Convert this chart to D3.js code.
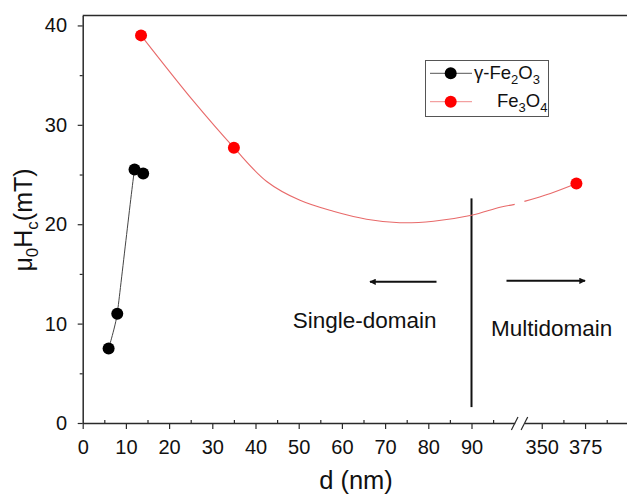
<!DOCTYPE html>
<html>
<head>
<meta charset="utf-8">
<script src="https://cdn.jsdelivr.net/npm/d3@7"></script>
<style>
  html, body { margin: 0; padding: 0; background: #fff; }
  svg { display: block; font-family: "Liberation Sans", Arial, sans-serif; }
</style>
</head>
<body>
<svg id="chart" width="627" height="497"></svg>
<script>
// ---------------- data ----------------
const gammaD  = [6, 8, 12, 14];
const gammaHc = [7.5, 11.0, 25.5, 25.1];

const fe3o4D  = [13.5, 35, 370];
const fe3o4Hc = [39.0, 27.7, 24.1];

// smooth guide curve for Fe3O4 (two pieces, axis break between)
const trendLeftD   = [13.5, 25.6, 35, 42.6, 50.3, 58, 65.7, 73.4, 81.2, 90, 96.6, 100];
const trendLeftHc  = [39.0, 32.4, 27.7, 24.3, 22.4, 21.3, 20.5, 20.15, 20.3, 20.9, 21.7, 22.0];
const trendRightD  = [340, 355, 370];
const trendRightHc = [22.3, 23.1, 24.1];

const xTicksLeft   = [0, 10, 20, 30, 40, 50, 60, 70, 80, 90];
const xMinorLeft   = [5, 15, 25, 35, 45, 55, 65, 75, 85, 95];
const xTicksRight  = [350, 375, 400];
const xMinorRight  = [362.5, 387.5];
const yTicks       = [0, 10, 20, 30, 40];
const yMinor       = [5, 15, 25, 35];

const boundaryD = 90, boundaryLow = 1.6, boundaryHigh = 22.6;
const leftArrow  = {from: 81.9, to: 66.5, hc: 14.2};
const rightArrow = {from: 98.1, to: 375, hc: 14.3};
const labelSingle = {d: 48.6, hc: 9.55, text: "Single-domain"};
const labelMulti  = {d: 94.5, hc: 8.75, text: "Multidomain"};

// ---------------- scales ----------------
const svg = d3.select("#chart");
const x1 = d3.scaleLinear().domain([0, 100]).range([82.7, 514.7]);
const x2 = d3.scaleLinear().domain([340, 400]).range([524.4, 628.4]);
const xp = d => d <= 200 ? x1(d) : x2(d);
const y  = d3.scaleLinear().domain([0, 41]).range([423, 15.5]);

const axisColor = "#2a2a2a";

// ---------------- frame / axes ----------------
svg.append("line")
  .attr("x1", x1(0)).attr("x2", 627).attr("y1", y(41)).attr("y2", y(41))
  .attr("stroke", axisColor).attr("stroke-width", 1.5);

const gL = svg.append("g").attr("transform", `translate(${x1(0)},0)`);
gL.call(d3.axisLeft(y).tickValues(yTicks).tickSize(5).tickPadding(10.7).tickSizeOuter(0))
  .call(g => g.select(".domain").attr("stroke", axisColor).attr("stroke-width", 1.5))
  .call(g => g.selectAll(".tick line").attr("stroke", axisColor).attr("stroke-width", 1.2))
  .call(g => g.selectAll("text").attr("font-size", 20).attr("fill", "#111")
      .attr("font-family", "Liberation Sans, Arial, sans-serif"));
svg.append("g").attr("transform", `translate(${x1(0)},0)`)
  .call(d3.axisLeft(y).tickValues(yMinor).tickSize(3).tickFormat(""))
  .call(g => g.select(".domain").remove())
  .call(g => g.selectAll(".tick line").attr("stroke", axisColor).attr("stroke-width", 1.2));

function bottomSeg(scale, major, minor, fmt) {
  const g = svg.append("g").attr("transform", `translate(0,${y(0)})`);
  g.call(d3.axisBottom(scale).tickValues(major).tickSize(6).tickSizeOuter(0).tickFormat(fmt))
    .call(g => g.select(".domain").attr("stroke", axisColor).attr("stroke-width", 1.5))
    .call(g => g.selectAll(".tick line").attr("stroke", axisColor).attr("stroke-width", 1.2))
    .call(g => g.selectAll("text").attr("font-size", 20).attr("fill", "#111")
        .attr("y", 31).attr("dy", null)
        .attr("font-family", "Liberation Sans, Arial, sans-serif"));
  const gm = svg.append("g").attr("transform", `translate(0,${y(0)})`);
  gm.call(d3.axisBottom(scale).tickValues(minor).tickSize(-3).tickFormat(""))
    .call(g => g.select(".domain").remove())
    .call(g => g.selectAll(".tick line").attr("stroke", axisColor).attr("stroke-width", 1.2));
}
bottomSeg(x1, xTicksLeft, xMinorLeft, d3.format("d"));
bottomSeg(x2, xTicksRight, xMinorRight, d => d === 400 ? "" : d3.format("d")(d));

[x1(100), x2(340)].forEach(cx => {
  svg.append("line")
    .attr("x1", cx - 3.3).attr("y1", y(0) + 7)
    .attr("x2", cx + 3.3).attr("y2", y(0) - 6)
    .attr("stroke", axisColor).attr("stroke-width", 1.2);
});

svg.append("text")
  .attr("x", 356).attr("y", 489)
  .attr("text-anchor", "middle").attr("font-size", 25.5).attr("fill", "#111")
  .text("d (nm)");

const yt = svg.append("text")
  .attr("transform", "translate(32,220) rotate(-90)")
  .attr("text-anchor", "middle").attr("font-size", 25).attr("fill", "#111");
yt.append("tspan").text("μ");
yt.append("tspan").attr("dy", 6).attr("font-size", 17).text("0");
yt.append("tspan").attr("dy", -6).text("H");
yt.append("tspan").attr("dy", 6).attr("font-size", 17).text("c");
yt.append("tspan").attr("dy", -6).text("(mT)");

// ---------------- annotations ----------------
svg.append("line")
  .attr("x1", x1(boundaryD)).attr("x2", x1(boundaryD))
  .attr("y1", y(boundaryLow)).attr("y2", y(boundaryHigh))
  .attr("stroke", "#111").attr("stroke-width", 2);

const defs = svg.append("defs");
defs.append("marker").attr("id", "ah")
  .attr("viewBox", "0 0 10 10").attr("refX", 9).attr("refY", 5)
  .attr("markerWidth", 4.2).attr("markerHeight", 3.2).attr("orient", "auto")
  .attr("markerUnits", "strokeWidth")
  .append("path").attr("d", "M0,0 L10,5 L0,10 z").attr("fill", "#111");

[leftArrow, rightArrow].forEach(a => {
  svg.append("line")
    .attr("x1", xp(a.from)).attr("x2", xp(a.to))
    .attr("y1", y(a.hc)).attr("y2", y(a.hc))
    .attr("stroke", "#111").attr("stroke-width", 2)
    .attr("marker-end", "url(#ah)");
});

[labelSingle, labelMulti].forEach(l => {
  svg.append("text").attr("x", xp(l.d)).attr("y", y(l.hc))
    .attr("font-size", 22.5).attr("fill", "#111").text(l.text);
});

// ---------------- series ----------------
const trendLine = d3.line().curve(d3.curveCatmullRom.alpha(0.5));
const trendL = trendLeftD.map((d, i) => [xp(d), y(trendLeftHc[i])]);
const trendR = trendRightD.map((d, i) => [xp(d), y(trendRightHc[i])]);
[trendL, trendR].forEach(pts => {
  svg.append("path").attr("d", trendLine(pts))
    .attr("fill", "none").attr("stroke", "#e86a6a").attr("stroke-width", 1.1);
});

const gammaLine = d3.line().curve(d3.curveCardinal.tension(0.6));
const gammaPts = gammaD.map((d, i) => [xp(d), y(gammaHc[i])]);
svg.append("path").attr("d", gammaLine(gammaPts))
  .attr("fill", "none").attr("stroke", "#444").attr("stroke-width", 1);

svg.append("g").selectAll("circle").data(fe3o4D.map((d, i) => [d, fe3o4Hc[i]]))
  .join("circle").attr("cx", d => xp(d[0])).attr("cy", d => y(d[1])).attr("r", 6)
  .attr("fill", "#ff0000");
svg.append("g").selectAll("circle").data(gammaD.map((d, i) => [d, gammaHc[i]]))
  .join("circle").attr("cx", d => xp(d[0])).attr("cy", d => y(d[1])).attr("r", 6)
  .attr("fill", "#000");

// ---------------- legend ----------------
const lg = svg.append("g");
lg.append("rect").attr("x", 425.5).attr("y", 60.5).attr("width", 123).attr("height", 56)
  .attr("fill", "#fff").attr("stroke", "#555").attr("stroke-width", 1);
const legendItems = [
  {color: "#000", lineColor: "#555", parts: [["γ-Fe", 0], ["2", 1], ["O", 0], ["3", 1]], tx: 474, cy: 73.3},
  {color: "#ff0000", lineColor: "#f08a8a", parts: [["Fe", 0], ["3", 1], ["O", 0], ["4", 1]], tx: 497, cy: 101.7}
];
legendItems.forEach(it => {
  lg.append("line").attr("x1", 430).attr("x2", 472).attr("y1", it.cy).attr("y2", it.cy)
    .attr("stroke", it.lineColor).attr("stroke-width", 1);
  lg.append("circle").attr("cx", 450.7).attr("cy", it.cy).attr("r", 6).attr("fill", it.color);
  const t = lg.append("text").attr("x", it.tx).attr("y", it.cy + 5.5)
    .attr("font-size", 18.5).attr("fill", "#111");
  let prev = 0;
  it.parts.forEach(([s, sub]) => {
    const dy = (sub - prev) * 5;
    prev = sub;
    t.append("tspan").attr("dy", dy).attr("font-size", sub ? 13 : 18.5).text(s);
  });
});
</script>
</body>
</html>
